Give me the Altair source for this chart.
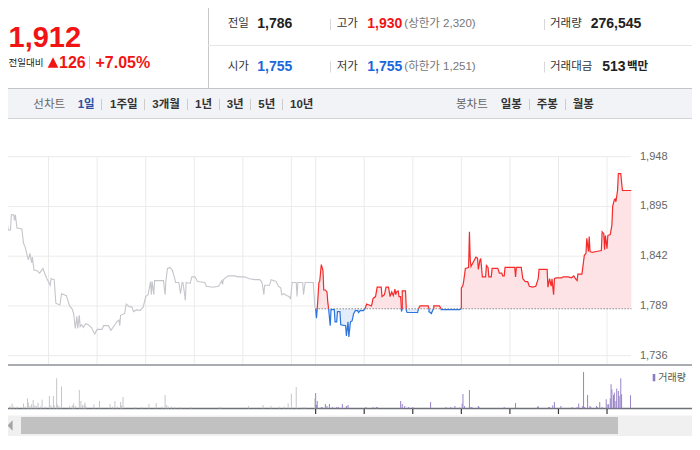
import altair as alt
import pandas as pd

# ---------------- data ----------------
PREV_CLOSE = 1786
PRICE_TICKS = [1736, 1789, 1842, 1895, 1948]
# minutes since 09:00 of the previous session (0-390 = previous day, 390-780 = today)
GRID_MINUTES = [60, 120, 180, 240, 300, 360, 390, 450, 510, 570, 630, 690, 750]
TODAY_HOUR_TICKS = [390, 450, 510, 570, 630, 690, 750]

PREV_MIN = [0, 3, 5, 7, 8, 10, 13, 14, 17, 18, 19, 21, 27, 29, 31, 35, 37, 39, 40, 42,
            45, 49, 53, 56, 58, 62, 63, 67, 69, 74, 76, 82, 86, 89, 91, 93, 95, 96, 98, 99,
            101, 103, 106, 109, 113, 117, 120, 126, 128, 134, 137, 142, 144, 147, 148, 149, 154, 156, 160, 163,
            165, 169, 173, 177, 180, 183, 186, 187, 188, 190, 191, 202, 204, 205, 207, 210, 213, 215, 217, 221,
            223, 225, 226, 228, 229, 230, 235, 237, 241, 244, 253, 255, 263, 270, 272, 274, 275, 276, 282, 290,
            294, 302, 308, 315, 321, 323, 324, 326, 327, 333, 335, 341, 344, 347, 348, 351, 354, 357, 359, 361,
            366, 367, 368, 374, 375, 377, 385, 387, 389, 390]
PREV_PRICE = [1850, 1856, 1900, 1898, 1886, 1870, 1870, 1886, 1886, 1880, 1886, 1872, 1871, 1856, 1852, 1838, 1845, 1835, 1841, 1827,
              1827, 1824, 1829, 1822, 1818, 1811, 1818, 1817, 1792, 1790, 1802, 1800, 1789, 1786, 1781, 1765, 1778, 1765, 1779, 1767,
              1769, 1766, 1770, 1769, 1766, 1759, 1764, 1764, 1768, 1768, 1763, 1769, 1772, 1774, 1768, 1779, 1781, 1791, 1788, 1788,
              1783, 1785, 1784, 1788, 1799, 1801, 1815, 1801, 1815, 1801, 1816, 1816, 1801, 1816, 1829, 1830, 1827, 1821, 1814, 1814,
              1802, 1814, 1814, 1802, 1795, 1814, 1813, 1820, 1820, 1815, 1814, 1810, 1809, 1810, 1813, 1816, 1812, 1817, 1821, 1821,
              1820, 1820, 1818, 1817, 1817, 1815, 1813, 1801, 1811, 1811, 1817, 1815, 1810, 1808, 1801, 1802, 1800, 1799, 1797, 1814,
              1814, 1799, 1814, 1814, 1801, 1814, 1814, 1814, 1788, 1786]

TODAY_MIN = [390, 391, 392, 394, 395, 397, 399, 400, 402, 404, 405, 406, 408, 409, 413, 414, 416, 417, 420, 421,
             427, 428, 430, 431, 433, 435, 437, 439, 442, 443, 445, 449, 451, 453, 456, 459, 461, 464, 466, 471,
             472, 475, 477, 480, 482, 484, 486, 488, 489, 490, 492, 493, 495, 496, 497, 501, 502, 503, 516, 517,
             519, 529, 530, 533, 535, 536, 543, 545, 568, 570, 572, 573, 575, 579, 580, 581, 582, 585, 588, 590,
             591, 593, 594, 596, 600, 601, 603, 604, 607, 608, 615, 617, 620, 621, 623, 624, 632, 636, 637, 638,
             644, 646, 649, 652, 654, 658, 662, 665, 666, 673, 676, 677, 679, 681, 682, 684, 685, 687, 694, 696,
             702, 706, 709, 711, 713, 714, 719, 722, 724, 725, 727, 728, 729, 732, 737, 743, 744, 746, 747, 748,
             750, 751, 754, 756, 757, 759, 760, 761, 763, 764, 767, 769, 777, 780]
TODAY_PRICE = [1786, 1776, 1786, 1814, 1815, 1833, 1827, 1806, 1806, 1804, 1793, 1786, 1768, 1785, 1785, 1772, 1772, 1783, 1783, 1769,
               1768, 1757, 1772, 1756, 1772, 1773, 1781, 1784, 1784, 1782, 1784, 1784, 1786, 1791, 1790, 1789, 1797, 1799, 1809, 1809,
               1799, 1801, 1809, 1809, 1799, 1804, 1800, 1807, 1801, 1804, 1805, 1799, 1799, 1783, 1805, 1805, 1784, 1782, 1782, 1786,
               1789, 1789, 1783, 1781, 1785, 1789, 1789, 1785, 1785, 1808, 1811, 1816, 1829, 1830, 1868, 1838, 1831, 1836, 1841, 1840,
               1828, 1838, 1839, 1820, 1820, 1832, 1830, 1820, 1820, 1829, 1829, 1824, 1824, 1821, 1821, 1830, 1830, 1830, 1820, 1830,
               1830, 1818, 1815, 1815, 1810, 1809, 1810, 1818, 1828, 1828, 1828, 1809, 1818, 1810, 1818, 1801, 1818, 1819, 1819, 1820,
               1820, 1819, 1821, 1818, 1816, 1823, 1823, 1843, 1845, 1861, 1847, 1863, 1847, 1846, 1847, 1848, 1868, 1866, 1849, 1864,
               1850, 1864, 1865, 1875, 1895, 1902, 1903, 1900, 1912, 1930, 1930, 1912, 1912, 1912]

VOL_MIN = [1, 3, 4, 7, 9, 12, 13, 15, 17, 21, 29, 31, 34, 35, 37, 39, 41, 43, 45, 47,
           50, 52, 56, 61, 63, 66, 67, 70, 71, 73, 76, 86, 89, 90, 91, 93, 98, 100, 102, 104,
           105, 106, 116, 123, 136, 139, 142, 145, 149, 150, 152, 167, 175, 184, 193, 200, 204, 206, 208, 212,
           216, 223, 236, 271, 273, 307, 325, 335, 345, 351, 356, 360, 366, 374, 377, 389,
           390, 391, 392, 397, 398, 402, 404, 407, 411, 416, 418, 423, 428, 430, 452, 461, 465, 466, 495, 497,
           500, 505, 510, 532, 551, 557, 562, 568, 571, 572, 574, 580, 581, 583, 591, 592, 623, 637, 664, 665,
           678, 679, 683, 685, 693, 707, 713, 715, 720, 721, 722, 726, 729, 730, 737, 738, 741, 744, 749, 751,
           752, 754, 755, 756, 758, 759, 761, 762, 764, 765, 767, 768, 779]
VOL = [5700, 7300, 18300, 1700, 2300, 1700, 1700, 4700, 1700, 1700, 4700, 1700, 9700, 5700, 2300, 4000, 8300, 3000, 2300, 5700,
       1700, 8700, 1700, 12300, 3000, 12300, 3300, 30000, 4000, 2300, 21700, 2300, 1700, 3000, 5000, 2300, 18300, 7300, 3000, 4000,
       5700, 2300, 4000, 7300, 4300, 1700, 7300, 1700, 6300, 3000, 11300, 1300, 1300, 4300, 5300, 1700, 13300, 3300, 1700, 1700,
       1300, 1300, 1300, 1300, 1300, 2300, 3300, 2300, 1700, 1700, 5000, 14700, 21300, 1300, 1300, 10000,
       15300, 3300, 7300, 1300, 1300, 4300, 2300, 4300, 1300, 1300, 1300, 4300, 2300, 3300, 1300, 1300, 1300, 1300, 7300, 4300,
       2300, 1300, 1300, 6300, 1300, 1300, 2300, 700, 4700, 14300, 2300, 18300, 1300, 1300, 2300, 1300, 1300, 5300, 1300, 2300,
       1300, 1300, 3000, 6300, 2300, 1300, 1300, 4700, 2300, 36300, 1300, 13300, 2300, 1300, 2300, 1300, 6300, 1300, 9000, 4000,
       4000, 10000, 24000, 19000, 13300, 15700, 7300, 19700, 17300, 12300, 30000, 14000, 13000]

# ---------------- helpers ----------------
OFF = 8  # page margin; coordinates below are window pixels
SANS = "'Liberation Sans', 'Noto Sans CJK KR', sans-serif"
ONE = pd.DataFrame({"k": [0]})


def V(v):
    return alt.value(v - OFF)


X_SCALE = alt.Scale(domain=[0, 780], range=[0 - OFF, 631.3 - OFF], nice=False, zero=False)
P_SCALE = alt.Scale(domain=[1736, 1948], range=[355.7 - OFF, 156.7 - OFF], nice=False, zero=False)
V_SCALE = alt.Scale(domain=[0, 40000], range=[408.3 - OFF, 368.3 - OFF], nice=False, zero=False)


def rect(x1, y1, x2, y2, color):
    return alt.Chart(ONE).mark_rect(color=color).encode(x=V(x1), x2=V(x2), y=V(y1), y2=V(y2))


def rule(x1, y1, x2, y2, color, width=1.0):
    return alt.Chart(ONE).mark_rule(color=color, strokeWidth=width).encode(
        x=V(x1), x2=V(x2), y=V(y1), y2=V(y2))


def text(s, x, y, size, color, weight="normal", font=SANS, baseline="middle", align="left"):
    return alt.Chart(ONE).mark_text(text=s, fontSize=size, color=color, fontWeight=weight,
                                    font=font, baseline=baseline, align=align).encode(x=V(x), y=V(y))


def symbol(path, x, y, size, color):
    return alt.Chart(ONE).mark_point(shape=path, size=size, filled=True, color=color,
                                     opacity=1, strokeWidth=0).encode(x=V(x), y=V(y))


RED = "#f01414"
BLUE = "#1a67dc"
DARK = "#222222"
LABEL = "#333333"
GRAY = "#777777"

layers = []

# ---------------- frame / header ----------------
layers += [
    rect(0, 88, 700, 118.5, "#f2f3f7"),
    rect(0, 415.5, 700, 436, "#f0f0f0"),
    rect(21, 417, 618, 434, "#c1c1c1"),
    symbol("M0.5,-1L-0.5,0L0.5,1Z", 10, 425.5, 110, "#a5a5a5"),
    rule(208.5, 3, 208.5, 88, "#c8c8c8"),
    rule(208, 45.5, 700, 45.5, "#e6e6e6"),
    rule(0, 88.5, 700, 88.5, "#c4c4c4"),
    rule(0, 118.5, 700, 118.5, "#d4d4d4"),
]

# ---------------- price grid ----------------
price_df = pd.DataFrame({"p": PRICE_TICKS})
grid_df = pd.DataFrame({"m": GRID_MINUTES})
layers.append(alt.Chart(price_df).mark_rule(color="#ebebeb", strokeWidth=1).encode(
    y=alt.Y("p:Q", scale=P_SCALE, axis=None), x=V(0), x2=V(631)))
layers.append(alt.Chart(grid_df).mark_rule(color="#ebebeb", strokeWidth=1).encode(
    x=alt.X("m:Q", scale=X_SCALE, axis=None), y=V(156.7), y2=V(365)))

# ---------------- today series split into up / down runs ----------------
def side_of(p):
    return 1 if p > PREV_CLOSE else (-1 if p < PREV_CLOSE else 0)


pts = list(zip(TODAY_MIN, TODAY_PRICE))
segments = []
cur_side, cur = None, []
for k in range(len(pts) - 1):
    (t0, p0), (t1, p1) = pts[k], pts[k + 1]
    s0, s1 = side_of(p0), side_of(p1)
    if s0 * s1 < 0:
        pieces = [((t0, p0), (t1, PREV_CLOSE), s0), ((t1, PREV_CLOSE), (t1, p1), s1)]
    else:
        s = s0 or s1 or (cur_side or -1)
        pieces = [((t0, p0), (t1, p1), s)]
    for a, b, s in pieces:
        if s == cur_side and cur:
            cur.append(b)
        else:
            if cur:
                segments.append((cur_side, cur))
            cur_side, cur = s, [a, b]
segments.append((cur_side, cur))

rows = []
i = 0
for n, (s, seg) in enumerate(segments):
    for t, p in seg:
        rows.append({"seg": n, "side": "up" if s > 0 else "down", "m": t, "p": p,
                     "b": PREV_CLOSE, "i": i})
        i += 1
today_df = pd.DataFrame(rows)

prev_df = pd.DataFrame({"m": PREV_MIN, "p": PREV_PRICE})
prev_df["i"] = range(len(prev_df))

layers.append(alt.Chart(today_df).mark_area(opacity=1).encode(
    x=alt.X("m:Q", scale=X_SCALE, axis=None),
    y=alt.Y("p:Q", scale=P_SCALE, axis=None),
    y2=alt.Y2("b:Q"),
    color=alt.Color("side:N", scale=alt.Scale(domain=["up", "down"], range=["#fde3e5", "#e2ecfa"]), legend=None),
    detail="seg:N"))

base_df = pd.DataFrame({"p": [PREV_CLOSE], "a": [390], "z": [780]})
layers.append(alt.Chart(base_df).mark_rule(color="#555555", strokeWidth=1, strokeDash=[1, 2]).encode(
    x=alt.X("a:Q", scale=X_SCALE, axis=None), x2="z:Q",
    y=alt.Y("p:Q", scale=P_SCALE, axis=None)))

layers.append(alt.Chart(prev_df).mark_line(color="#c4c6cb", strokeWidth=1.1).encode(
    x=alt.X("m:Q", scale=X_SCALE, axis=None),
    y=alt.Y("p:Q", scale=P_SCALE, axis=None),
    order="i:Q"))

layers.append(alt.Chart(today_df).mark_line(strokeWidth=1.2).encode(
    x=alt.X("m:Q", scale=X_SCALE, axis=None),
    y=alt.Y("p:Q", scale=P_SCALE, axis=None),
    color=alt.Color("side:N", scale=alt.Scale(domain=["up", "down"], range=["#f52a2a", "#2b74dc"]), legend=None),
    detail="seg:N", order="i:Q"))

# price axis labels
layers.append(alt.Chart(price_df).mark_text(align="left", baseline="middle", fontSize=11,
                                            color="#666666", font=SANS).encode(
    x=V(640), y=alt.Y("p:Q", scale=P_SCALE, axis=None), text=alt.Text("p:Q", format=",")))

# ---------------- separators of the volume pane ----------------
layers += [
    rule(0, 365, 699, 365, "#8d9096", 1.3),
    rule(0, 408.5, 699, 408.5, "#6e7178", 1.6),
]

# ---------------- volume ----------------
vol_df = pd.DataFrame({"m": VOL_MIN, "v": VOL})
vol_df["zero"] = 0
vol_df["day"] = ["prev" if m < 390 else "today" for m in VOL_MIN]
layers.append(alt.Chart(vol_df).mark_rule(strokeWidth=1).encode(
    x=alt.X("m:Q", scale=X_SCALE, axis=None),
    y=alt.Y("v:Q", scale=V_SCALE, axis=None), y2="zero:Q",
    color=alt.Color("day:N", scale=alt.Scale(domain=["prev", "today"], range=["#c5c6ca", "#9783c6"]), legend=None)))

tick_df = pd.DataFrame({"m": TODAY_HOUR_TICKS})
layers.append(alt.Chart(tick_df).mark_rule(color="#3a3a3a", strokeWidth=1.2).encode(
    x=alt.X("m:Q", scale=X_SCALE, axis=None), y=V(409), y2=V(414)))

# legend
layers += [
    rect(652.7, 374, 655.3, 381.3, "#8e7cc3"),
    text("거래량", 658.3, 378, 10, "#555555"),
]

# ---------------- header texts ----------------
layers += [
    text("1,912", 8.5, 46.7, 29, RED, "bold", SANS, "alphabetic"),
    text("전일대비", 8.5, 62.5, 9.5, DARK),
    symbol("M-1,1L0,-1L1,1Z", 53, 62.5, 112, RED),
    text("126", 59, 62.5, 16, RED, "bold"),
    rule(89.5, 56, 89.5, 69, "#cccccc"),
    text("+7.05%", 95.5, 62.5, 16, RED, "bold"),

    text("전일", 227.7, 24, 11.5, LABEL),
    text("1,786", 257.3, 24, 14, DARK, "bold"),
    rule(330.5, 19, 330.5, 30, "#d8d8d8"),
    text("고가", 336.7, 24, 11.5, LABEL),
    text("1,930", 367.3, 24, 14, RED, "bold"),
    text("(상한가 2,320)", 404.3, 24, 11.5, GRAY),
    rule(544.5, 19, 544.5, 30, "#d8d8d8"),
    text("거래량", 550, 24, 11.5, LABEL),
    text("276,545", 590.7, 24, 14, DARK, "bold"),

    text("시가", 227.7, 67, 11.5, LABEL),
    text("1,755", 257.3, 67, 14, BLUE, "bold"),
    rule(330.5, 61.5, 330.5, 72.5, "#d8d8d8"),
    text("저가", 336.7, 67, 11.5, LABEL),
    text("1,755", 367.3, 67, 14, BLUE, "bold"),
    text("(하한가 1,251)", 404.3, 67, 11.5, GRAY),
    rule(544.5, 61.5, 544.5, 72.5, "#d8d8d8"),
    text("거래대금", 550, 67, 11.5, LABEL),
    text("513", 602.3, 67, 14, DARK, "bold"),
    text("백만", 627, 67, 11.5, DARK, "bold"),
]

# ---------------- toolbar ----------------
TB_Y = 104.5
layers += [
    text("선차트", 33.3, TB_Y, 11.5, "#666666"),
    text("1일", 77.7, TB_Y, 11.5, "#2b4ea2", "bold"),
    text("1주일", 110, TB_Y, 11.5, LABEL, "bold"),
    text("3개월", 152.3, TB_Y, 11.5, LABEL, "bold"),
    text("1년", 195, TB_Y, 11.5, LABEL, "bold"),
    text("3년", 226.7, TB_Y, 11.5, LABEL, "bold"),
    text("5년", 258.3, TB_Y, 11.5, LABEL, "bold"),
    text("10년", 290, TB_Y, 11.5, LABEL, "bold"),
    text("봉차트", 456, TB_Y, 11.5, "#666666"),
    text("일봉", 500.7, TB_Y, 11.5, LABEL, "bold"),
    text("주봉", 536.7, TB_Y, 11.5, LABEL, "bold"),
    text("월봉", 572.7, TB_Y, 11.5, LABEL, "bold"),
]
for sx in [101.5, 144.5, 187.5, 219.5, 250.5, 282.5, 529.5, 565.5]:
    layers.append(rule(sx, 99, sx, 110, "#cccccc"))

chart = (
    alt.layer(*layers)
    .resolve_scale(x="independent", y="independent", color="independent")
    .properties(width=684, height=434, autosize=alt.AutoSizeParams(type="none"), padding=0)
    .configure_view(stroke=None)
)

chart.save("out.html", embed_options={"renderer": "svg", "actions": False})
